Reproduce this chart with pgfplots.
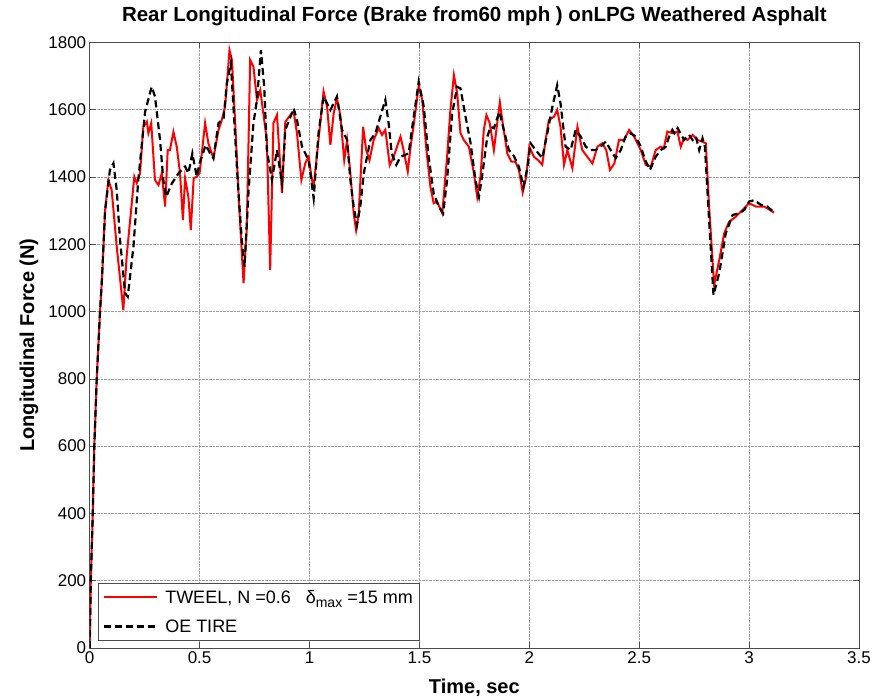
\documentclass[border=0pt]{standalone}
\usepackage{fontspec}
\setmainfont{Liberation Sans}
\usepackage{pgfplots}
\pgfplotsset{compat=1.18}
\begin{document}
\begin{tikzpicture}
\begin{axis}[name=ax, scale only axis, width=769.3pt, height=605.6pt,
  xmin=0, xmax=3.5, ymin=0, ymax=1800,
  xtick={0,0.5,1,1.5,2,2.5,3,3.5}, ytick={0,200,400,600,800,1000,1200,1400,1600,1800},
  grid=major, grid style={densely dotted, gray!75, line width=0.6pt},
  tick align=inside, major tick length=6pt, tick style={black!70, line width=0.6pt},
  axis line style={black!70, line width=0.7pt},
  /pgf/number format/assume math mode=true,
  /pgf/number format/1000 sep={},
  tick label style={font=\fontsize{17}{17}\selectfont},
  title={Rear Longitudinal Force (Brake from60 mph ) onLPG Weathered Asphalt},
  title style={font=\bfseries\fontsize{20.5}{20.5}\selectfont, at={(0.5,1.0337)}, anchor=center, yshift=0pt},
  xlabel={Time, sec}, ylabel={Longitudinal Force (N)},
  xlabel style={font=\bfseries\fontsize{20}{20}\selectfont, at={(0.5,-0.066)}, anchor=center, yshift=0pt},
  ylabel style={font=\bfseries\fontsize{20}{20}\selectfont, at={(-0.0790,0.5)}, anchor=center, yshift=0pt},
  legend cell align=left,
  legend style={at={(0.0104,0.0116)}, anchor=south west, font=\fontsize{18}{18}\selectfont,
    draw=black!70, line width=0.7pt, inner xsep=5pt, inner ysep=5pt, row sep=11pt,
    /tikz/every odd column/.append style={column sep=5pt}},
  legend image code/.code={\draw[#1] plot coordinates {(4pt,0pt) (57pt,0pt)};},
]
\addplot[red, line width=2pt, no marks] coordinates {
(0,0) (0.005,200) (0.014,400) (0.021,600) (0.032,800) (0.047,1000) (0.056,1100) (0.07,1300)
(0.085,1391) (0.1,1361) (0.123,1193) (0.153,1004) (0.168,1163) (0.184,1272) (0.203,1401)
(0.214,1382) (0.229,1411) (0.244,1549) (0.26,1564) (0.267,1530) (0.28,1560) (0.297,1391)
(0.313,1376) (0.328,1411) (0.343,1312) (0.355,1480) (0.365,1480) (0.381,1534) (0.396,1490)
(0.411,1411) (0.424,1272) (0.434,1396) (0.449,1341) (0.46,1242) (0.473,1396) (0.487,1401)
(0.5,1411) (0.525,1560) (0.54,1500) (0.563,1456) (0.586,1540) (0.601,1569) (0.616,1609)
(0.636,1777) (0.647,1748) (0.662,1560) (0.68,1312) (0.7,1084) (0.715,1252) (0.73,1748)
(0.745,1728) (0.761,1629) (0.776,1658) (0.806,1510) (0.821,1123) (0.836,1560) (0.852,1584)
(0.875,1352) (0.89,1564) (0.913,1584) (0.928,1594) (0.943,1530) (0.963,1391) (0.981,1441)
(0.996,1460) (1.011,1391) (1.019,1371) (1.041,1510) (1.064,1654) (1.08,1609) (1.095,1495)
(1.11,1589) (1.125,1634) (1.14,1584) (1.158,1450) (1.171,1510) (1.186,1411) (1.201,1292)
(1.212,1242) (1.224,1292) (1.244,1549) (1.258,1480) (1.273,1450) (1.292,1510) (1.315,1545)
(1.33,1525) (1.345,1540) (1.365,1435) (1.383,1460) (1.398,1490) (1.414,1520) (1.428,1480)
(1.447,1416) (1.458,1480) (1.477,1569) (1.497,1673) (1.513,1629) (1.532,1480) (1.55,1371)
(1.565,1322) (1.58,1327) (1.604,1292) (1.626,1460) (1.641,1599) (1.657,1703) (1.672,1648)
(1.687,1530) (1.702,1510) (1.725,1490) (1.748,1411) (1.763,1341) (1.778,1401) (1.793,1540)
(1.805,1584) (1.82,1560) (1.839,1480) (1.854,1560) (1.866,1622) (1.879,1560) (1.9,1470)
(1.918,1446) (1.937,1445) (1.953,1420) (1.97,1354) (1.986,1400) (2.0,1490) (2.021,1460)
(2.04,1450) (2.059,1436) (2.074,1510) (2.089,1569) (2.112,1579) (2.127,1599) (2.142,1549)
(2.158,1436) (2.173,1480) (2.196,1426) (2.219,1549) (2.241,1480) (2.264,1460) (2.287,1440)
(2.31,1490) (2.332,1500) (2.35,1480) (2.367,1421) (2.387,1440) (2.408,1510) (2.431,1510)
(2.454,1540) (2.477,1520) (2.507,1480) (2.53,1436) (2.553,1431) (2.575,1480) (2.598,1490)
(2.612,1485) (2.628,1535) (2.651,1530) (2.674,1535) (2.689,1490) (2.704,1515) (2.72,1510)
(2.743,1525) (2.765,1510) (2.788,1505) (2.803,1500) (2.818,1312) (2.841,1079) (2.864,1153)
(2.887,1233) (2.909,1267) (2.94,1282) (2.97,1302) (3.0,1322) (3.031,1312) (3.069,1312) (3.114,1294)
};
\addlegendentry{TWEEL, N =0.6\ \ \ δ\raisebox{-0.45ex}{\fontsize{14}{14}\selectfont max} =15 mm}
\addplot[black, line width=2.2pt, dash pattern=on 7pt off 4pt, no marks] coordinates {
(0,0) (0.005,200) (0.014,400) (0.021,600) (0.032,800) (0.047,1000) (0.056,1100) (0.07,1300)
(0.092,1421) (0.108,1441) (0.123,1361) (0.138,1213) (0.161,1055) (0.173,1044) (0.199,1193)
(0.221,1391) (0.252,1594) (0.282,1668) (0.297,1639) (0.32,1510) (0.335,1391) (0.348,1341)
(0.374,1381) (0.404,1411) (0.434,1431) (0.449,1411) (0.467,1470) (0.487,1401) (0.5,1441)
(0.528,1495) (0.548,1470) (0.563,1456) (0.586,1560) (0.609,1574) (0.624,1678) (0.642,1738)
(0.654,1609) (0.674,1381) (0.692,1213) (0.704,1133) (0.723,1361) (0.745,1560) (0.761,1629)
(0.779,1777) (0.794,1668) (0.806,1480) (0.829,1391) (0.852,1480) (0.875,1382) (0.89,1540)
(0.928,1604) (0.943,1569) (0.966,1490) (0.996,1450) (1.019,1337) (1.041,1530) (1.064,1639)
(1.095,1599) (1.125,1639) (1.148,1540) (1.171,1510) (1.186,1391) (1.201,1312) (1.216,1257)
(1.231,1312) (1.247,1411) (1.277,1510) (1.3,1530) (1.322,1579) (1.345,1629) (1.36,1560)
(1.374,1470) (1.395,1436) (1.414,1460) (1.451,1470) (1.474,1579) (1.497,1683) (1.52,1609)
(1.542,1460) (1.565,1351) (1.588,1312) (1.608,1292) (1.626,1391) (1.649,1589) (1.672,1668)
(1.687,1663) (1.71,1579) (1.733,1500) (1.755,1391) (1.771,1341) (1.785,1401) (1.809,1520)
(1.824,1549) (1.839,1545) (1.864,1594) (1.884,1540) (1.907,1480) (1.93,1462) (1.953,1430)
(1.973,1371) (1.991,1426) (2.006,1500) (2.029,1480) (2.059,1456) (2.082,1530) (2.105,1609)
(2.127,1673) (2.142,1619) (2.165,1490) (2.188,1480) (2.211,1540) (2.234,1520) (2.257,1490)
(2.279,1480) (2.302,1480) (2.325,1490) (2.348,1505) (2.37,1480) (2.393,1456) (2.416,1480)
(2.438,1520) (2.461,1530) (2.484,1520) (2.507,1490) (2.53,1446) (2.549,1421) (2.575,1460)
(2.598,1480) (2.621,1490) (2.636,1520) (2.651,1540) (2.66,1530) (2.675,1545) (2.704,1510)
(2.727,1525) (2.743,1510) (2.758,1520) (2.773,1480) (2.788,1515) (2.799,1490) (2.818,1272)
(2.838,1049) (2.864,1114) (2.894,1233) (2.925,1287) (2.955,1292) (2.978,1302) (3.0,1327)
(3.023,1331) (3.054,1317) (3.084,1312) (3.114,1294)
};
\addlegendentry{OE TIRE}
\end{axis}
\pgfresetboundingbox
\useasboundingbox ([xshift=-89.7pt,yshift=-52pt]ax.south west) rectangle ([xshift=14pt,yshift=42.4pt]ax.north east);
\end{tikzpicture}
\end{document}
